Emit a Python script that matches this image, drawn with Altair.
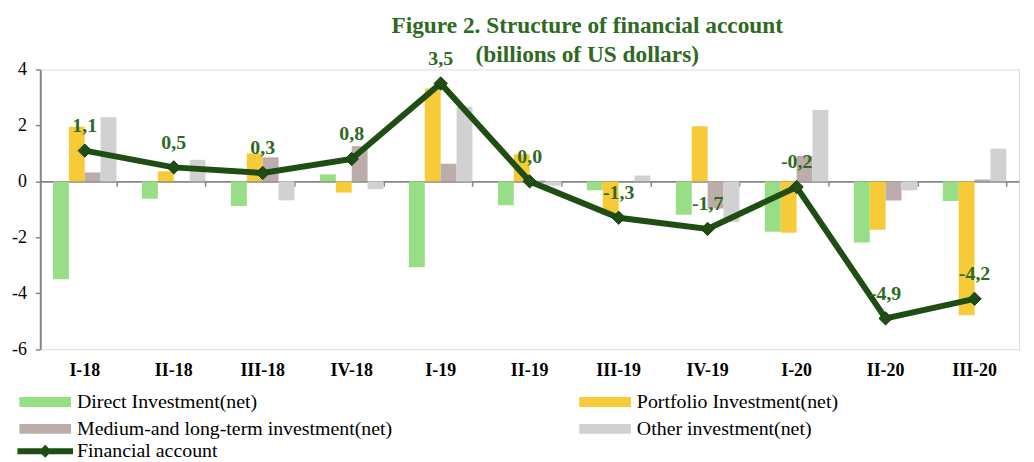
import altair as alt
import pandas as pd

quarters = ["I-18", "II-18", "III-18", "IV-18", "I-19", "II-19", "III-19",
            "IV-19", "I-20", "II-20", "III-20"]
direct = [-3.50, -0.62, -0.88, 0.25, -3.07, -0.85, -0.32, -1.19, -1.80, -2.19, -0.70]
portfolio = [1.95, 0.36, 1.00, -0.40, 3.32, 0.97, -1.12, 1.97, -1.84, -1.73, -4.79]
medium = [0.32, 0.00, 0.86, 1.26, 0.63, 0.03, 0.00, -0.97, 0.91, -0.68, 0.07]
other = [2.29, 0.77, -0.68, -0.28, 2.67, -0.15, 0.21, -1.45, 2.55, -0.32, 1.17]
financial = [1.1, 0.5, 0.3, 0.8, 3.5, 0.0, -1.3, -1.7, -0.2, -4.9, -4.2]

series_names = ["Direct Investment(net)", "Portfolio Investment(net)",
                "Medium-and long-term investment(net)", "Other investment(net)"]
bar_colors = ["#98DE87", "#F6CB37", "#BCADAA", "#D1D1D1"]
line_name = "Financial account"
line_color = "#1F4E14"
label_color = "#2E6A1F"
axis_gray = "#868686"
serif = "Liberation Serif"

rows = []
for name, vals in zip(series_names, [direct, portfolio, medium, other]):
    for q, v in zip(quarters, vals):
        rows.append({"quarter": q, "series": name, "value": v})
bars_df = pd.DataFrame(rows)

fa_df = pd.DataFrame({
    "quarter": quarters,
    "value": financial,
    "label": [f"{v:.1f}".replace(".", ",") for v in financial],
    "series": [line_name] * len(quarters),
})

PLOT_W = 986
PLOT_H = 281.7
zero_offset = -(PLOT_H * 6 / 10)

x_scale = alt.Scale(domain=quarters, paddingInner=0.286, paddingOuter=0.143)
y_scale = alt.Scale(domain=[-6, 4], nice=False, zero=False)

y_axis = alt.Axis(title=None, values=[-6, -4, -2, 0, 2, 4], grid=False,
                  domainColor=axis_gray, domainWidth=2, tickColor=axis_gray,
                  tickSize=5, tickWidth=1.5, labelFont=serif, labelFontSize=18,
                  labelColor="#000000", labelPadding=9,
                  labelExpr="datum.value + ''")

label_axis = alt.Axis(title=None, orient="bottom", domain=False, ticks=False,
                      labelAngle=0, labelFont=serif, labelFontSize=18,
                      labelFontWeight="bold", labelColor="#000000",
                      labelPadding=13, grid=False)

zero_axis = alt.Axis(title=None, orient="bottom", offset=zero_offset,
                     labels=False, domain=True, domainColor=axis_gray,
                     domainWidth=2, ticks=True, tickBand="extent", tickSize=5,
                     tickColor=axis_gray, tickWidth=1.5, grid=False)

bar_legend = alt.Legend(
    title=None, orient="none", legendX=-5, legendY=325, columns=2,
    direction="horizontal", columnPadding=188, rowPadding=7, padding=0,
    symbolType="M-5.2,-1L5.2,-1L5.2,1L-5.2,1Z", symbolSize=100,
    symbolStrokeWidth=0, labelFont=serif, labelFontSize=20,
    labelColor="#000000", labelOffset=22, labelLimit=500,
)

line_legend = alt.Legend(
    title=None, orient="none", legendX=-5, legendY=374.5, padding=0,
    symbolType="M-5.6,-0.6L5.6,-0.6L5.6,0.6L-5.6,0.6Z M-1.3,0L0,-1.3L1.3,0L0,1.3Z",
    symbolSize=100, symbolFillColor=line_color, symbolStrokeWidth=0,
    labelFont=serif, labelFontSize=20, labelColor="#000000", labelOffset=22,
    labelLimit=500,
)

bars = alt.Chart(bars_df).mark_bar().encode(
    x=alt.X("quarter:N", scale=x_scale, sort=quarters, axis=label_axis),
    xOffset=alt.XOffset("series:N", sort=series_names,
                        scale=alt.Scale(domain=series_names, paddingInner=0,
                                        paddingOuter=0)),
    y=alt.Y("value:Q", scale=y_scale, axis=y_axis),
    color=alt.Color("series:N", sort=series_names,
                    scale=alt.Scale(domain=series_names, range=bar_colors),
                    legend=bar_legend),
)

line = alt.Chart(fa_df).mark_line(strokeWidth=6, strokeJoin="miter").encode(
    x=alt.X("quarter:N", scale=x_scale, sort=quarters, axis=zero_axis),
    y=alt.Y("value:Q", scale=y_scale, axis=y_axis),
    stroke=alt.Stroke("series:N",
                      scale=alt.Scale(domain=[line_name], range=[line_color]),
                      legend=line_legend),
)

points = alt.Chart(fa_df).mark_point(
    shape="diamond", filled=True, size=180, color=line_color, opacity=1,
    stroke="#163A0E", strokeWidth=1,
).encode(
    x=alt.X("quarter:N", scale=x_scale, sort=quarters, axis=None),
    y=alt.Y("value:Q", scale=y_scale, axis=y_axis),
)

texts = alt.Chart(fa_df).mark_text(
    dy=-25, font=serif, fontSize=20, fontWeight="bold", color=label_color,
).encode(
    x=alt.X("quarter:N", scale=x_scale, sort=quarters, axis=None),
    y=alt.Y("value:Q", scale=y_scale, axis=y_axis),
    text="label:N",
)

chart = alt.layer(bars, line, points, texts).resolve_axis(
    x="independent"
).properties(
    width=PLOT_W,
    height=PLOT_H,
    autosize=alt.AutoSizeParams(type="none"),
    padding={"left": 32.5, "top": 60.3, "right": 7, "bottom": 112},
    title=alt.Title(
        ["Figure 2. Structure of financial account", "(billions of US dollars)"],
        font=serif, fontSize=23.5, fontWeight="bold", color=label_color,
        anchor="middle", frame="group", dx=58, dy=24, lineHeight=29, offset=6,
    ),
).configure_view(stroke=None).configure(background="white")

chart.save("out.html", embed_options={"renderer": "svg", "actions": False})
